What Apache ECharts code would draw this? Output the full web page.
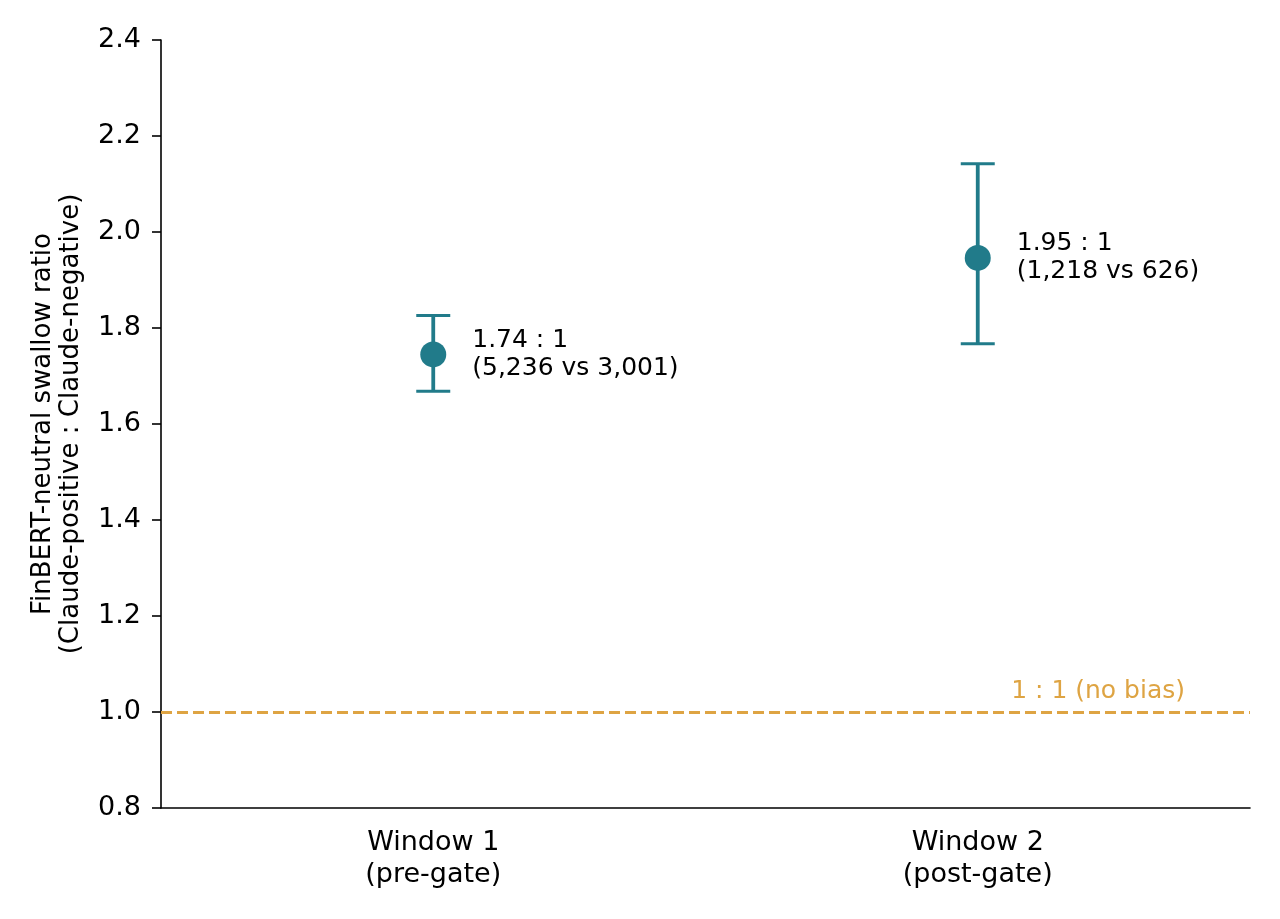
<!DOCTYPE html>
<html>
<head>
<meta charset="utf-8">
<script src="https://cdn.jsdelivr.net/npm/echarts@6/dist/echarts.min.js"></script>
<style>
  html, body { margin: 0; padding: 0; background: #fff; }
  #chart { width: 1280px; height: 919px; }
</style>
</head>
<body>
<div id="chart"></div>
<script>
const categories = ['Window 1\n(pre-gate)', 'Window 2\n(post-gate)'];
const ratios = [1.745, 1.946];
const ciLow = [1.668, 1.767];
const ciHigh = [1.826, 2.142];
const pointLabels = ['1.74 : 1\n(5,236 vs 3,001)', '1.95 : 1\n(1,218 vs 626)'];
const yTicks = { min: 0.8, max: 2.4, interval: 0.2 };
const baseline = 1.0;

const TEAL = '#217b8a';
const GOLD = '#dea443';
const FONT = 'DejaVu Sans';

const chart = echarts.init(document.getElementById('chart'));

const errData = categories.map((c, i) => [i, ciLow[i], ciHigh[i]]);

const option = {
  animation: false,
  textStyle: { fontFamily: FONT },
  grid: { left: 161, right: 30, top: 40, bottom: 111 },
  xAxis: {
    type: 'category',
    data: categories,
    boundaryGap: true,
    axisLine: { lineStyle: { color: '#000', width: 1.6 } },
    axisTick: { alignWithLabel: true, length: 9, lineStyle: { color: '#000', width: 1.6 } },
    axisLabel: { color: '#000', fontSize: 27, lineHeight: 32, margin: 19, fontFamily: FONT }
  },
  yAxis: {
    type: 'value',
    min: yTicks.min,
    max: yTicks.max,
    interval: yTicks.interval,
    name: 'FinBERT-neutral swallow ratio\n(Claude-positive : Claude-negative)',
    nameLocation: 'middle',
    nameGap: 76,
    nameTextStyle: { color: '#000', fontSize: 26, lineHeight: 28, fontFamily: FONT },
    axisLine: { show: true, lineStyle: { color: '#000', width: 1.6 } },
    axisTick: { show: true, length: 9, lineStyle: { color: '#000', width: 1.6 } },
    splitLine: { show: false },
    axisLabel: {
      color: '#000', fontSize: 27, margin: 20, fontFamily: FONT,
      formatter: v => v.toFixed(1)
    }
  },
  series: [
    {
      type: 'custom',
      data: errData,
      z: 2,
      renderItem: function (params, api) {
        const x = api.value(0);
        const lo = api.coord([x, api.value(1)]);
        const hi = api.coord([x, api.value(2)]);
        const cap = 17;
        const style = { stroke: TEAL, lineWidth: 3.8, fill: null };
        const capStyle = { stroke: TEAL, lineWidth: 3, fill: null };
        return {
          type: 'group',
          children: [
            { type: 'line', shape: { x1: lo[0], y1: lo[1], x2: hi[0], y2: hi[1] }, style },
            { type: 'line', shape: { x1: lo[0] - cap, y1: lo[1], x2: lo[0] + cap, y2: lo[1] }, style: capStyle },
            { type: 'line', shape: { x1: hi[0] - cap, y1: hi[1], x2: hi[0] + cap, y2: hi[1] }, style: capStyle }
          ]
        };
      }
    },
    {
      type: 'scatter',
      data: ratios.map((v, i) => ({
        value: [i, v],
        label: { formatter: pointLabels[i] }
      })),
      symbolSize: 26,
      z: 3,
      itemStyle: { color: TEAL, opacity: 1 },
      label: {
        show: true,
        position: 'right',
        distance: 26,
        color: '#000',
        fontSize: 25,
        lineHeight: 28,
        align: 'left',
        fontFamily: FONT
      },
      markLine: {
        silent: true,
        symbol: 'none',
        data: [{ yAxis: baseline }],
        lineStyle: { color: GOLD, type: [11, 5], width: 3 },
        label: {
          show: true,
          position: 'insideEndTop',
          distance: [65, 8],
          formatter: '1 : 1 (no bias)',
          color: GOLD,
          fontSize: 25,
          fontFamily: FONT
        }
      }
    }
  ]
};

chart.setOption(option);
</script>
</body>
</html>
